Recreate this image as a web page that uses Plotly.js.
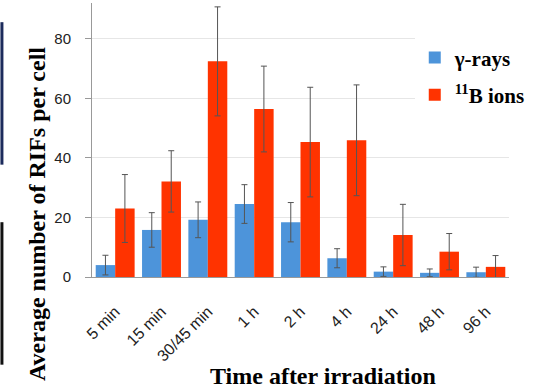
<!DOCTYPE html>
<html><head><meta charset="utf-8">
<script src="https://cdn.plot.ly/plotly-3.0.1.min.js"></script>
<style>html,body{margin:0;padding:0;background:#fff}#chart{width:548px;height:389px}</style>
</head><body><div id="chart"></div>
<script>
const categories = ["5 min","15 min","30/45 min","1 h","2 h","4 h","24 h","48 h","96 h"];
const gammaValues = [4.0, 15.8, 19.2, 24.5, 18.4, 6.3, 1.8, 1.4, 1.6];
const gammaErrors = [3.3, 5.8, 6.0, 6.5, 6.6, 3.2, 1.6, 1.3, 1.7];
const boronValues = [23.0, 32.1, 72.4, 56.4, 45.3, 45.9, 14.1, 8.5, 3.4];
const boronErrors = [11.4, 10.3, 18.3, 14.4, 18.4, 18.6, 10.3, 6.1, 3.8];
const tickValuesY = [0, 20, 40, 60, 80];

const errStyle = {type:'data', visible:true, color:'#555', thickness:1, width:3};
const traces = [
  {type:'bar', name:'γ-rays', x:categories, y:gammaValues,
   error_y:Object.assign({array:gammaErrors}, errStyle),
   marker:{color:'#4d94da'}, legendgroup:'g'},
  {type:'bar', name:'<sup>11</sup>B ions', x:categories, y:boronValues,
   error_y:Object.assign({array:boronErrors}, errStyle),
   marker:{color:'#ff3300'}, legendgroup:'b'}
];
const layout = {
  width:548, height:389,
  margin:{l:92, r:39, t:3, b:112},
  paper_bgcolor:'#fff', plot_bgcolor:'#fff',
  barmode:'group', bargap:0.16, bargroupgap:0,
  showlegend:true,
  legend:{x:0.774, xanchor:'left', y:0.875, yanchor:'top', bgcolor:'#fff',
    font:{family:'Liberation Serif', size:21, color:'#000', weight:'bold'},
    tracegroupgap:7, itemwidth:30},
  xaxis:{type:'category', showline:true, linecolor:'#999', linewidth:1,
    ticks:'', tickangle:-45, ticklabelstandoff:18,
    tickfont:{family:'Liberation Sans', size:16, color:'#222'},
    showgrid:false, zeroline:false},
  yaxis:{range:[0,92], tickvals:tickValuesY, showline:true, linecolor:'#999', linewidth:1,
    ticks:'outside', ticklen:6, tickcolor:'#999', ticklabelstandoff:11,
    tickfont:{family:'Liberation Sans', size:15, color:'#222'},
    showgrid:true, gridcolor:'#e6e6e6', zeroline:false},
  annotations:[
    {text:'<b>Average number of RIFs per cell</b>', xref:'paper', yref:'paper',
     x:-0.132, y:0.23, xanchor:'center', yanchor:'middle', textangle:-90, showarrow:false,
     font:{family:'Liberation Serif', size:24, color:'#000'}},
    {text:'<b>Time after irradiation</b>', xref:'paper', yref:'paper',
     x:0.554, y:-0.36, xanchor:'center', yanchor:'middle', showarrow:false,
     font:{family:'Liberation Serif', size:24, color:'#000'}}
  ],
  shapes:[
    {type:'line', xref:'paper', yref:'paper', x0:-0.216, x1:-0.216, y0:0.41, y1:0.93,
     line:{color:'#1c2b5c', width:3}},
    {type:'line', xref:'paper', yref:'paper', x0:-0.216, x1:-0.216, y0:-0.32, y1:0.2,
     line:{color:'#111', width:3}}
  ]
};
Plotly.newPlot('chart', traces, layout, {displayModeBar:false, staticPlot:true});
</script></body></html>
